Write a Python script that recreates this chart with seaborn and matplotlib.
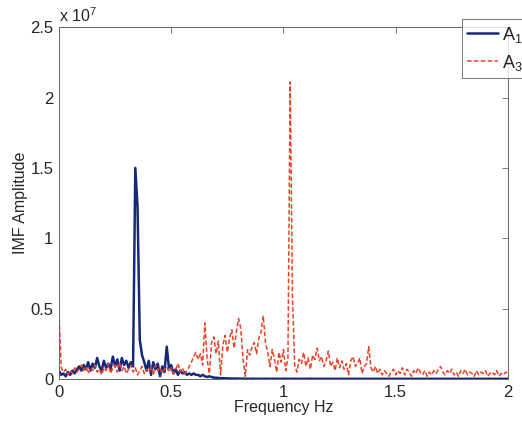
import numpy as np
import pandas as pd
import matplotlib
matplotlib.use("Agg")
import matplotlib.pyplot as plt
import seaborn as sns
from matplotlib.ticker import FuncFormatter

# frequency bins, 0.01 Hz apart
freq = np.round(np.arange(201) * 0.01, 2)

# amplitudes in units of 1e5
a1 = [
    6, 3, 4, 2, 5, 3, 6, 4, 7, 9,
    6, 10, 7, 12, 6, 11, 8, 15, 9, 6,
    13, 8, 11, 7, 16, 9, 14, 6, 15, 10,
    13, 8, 12, 9, 150, 122, 28, 17, 12, 6,
    13, 3, 12, 7, 11, 2, 9, 5, 23, 8,
    10, 4, 7, 3, 6, 4, 5, 3, 4, 3,
    4, 3, 3, 2, 3, 2, 1.5, 2, 1.5, 1,
    1, 0.8, 0.7, 0.6, 0.6, 0.5, 0.5, 0.4, 0.4, 0.4,
    0.3, 0.3, 0.3, 0.2, 0.3, 0.2, 0.3, 0.2, 0.2, 0.3,
    0.2, 0.2, 0.3, 0.2, 0.2, 0.2, 0.3, 0.2, 0.2, 0.2,
    0.3, 0.2, 0.2, 0.2, 0.2, 0.3, 0.2, 0.2, 0.2, 0.2,
    0.2, 0.2, 0.3, 0.2, 0.2, 0.2, 0.2, 0.2, 0.2, 0.2,
    0.2, 0.2, 0.2, 0.2, 0.2, 0.2, 0.2, 0.2, 0.2, 0.2,
    0.2, 0.2, 0.2, 0.2, 0.2, 0.2, 0.2, 0.2, 0.2, 0.2,
    0.2, 0.2, 0.2, 0.2, 0.2, 0.2, 0.2, 0.2, 0.2, 0.2,
    0.2, 0.2, 0.2, 0.2, 0.2, 0.2, 0.2, 0.2, 0.2, 0.2,
    0.2, 0.2, 0.2, 0.2, 0.2, 0.2, 0.2, 0.2, 0.2, 0.2,
    0.2, 0.2, 0.2, 0.2, 0.2, 0.2, 0.2, 0.2, 0.2, 0.2,
    0.2, 0.2, 0.2, 0.2, 0.2, 0.2, 0.2, 0.2, 0.2, 0.2,
    0.2, 0.2, 0.2, 0.2, 0.2, 0.2, 0.2, 0.2, 0.2, 0.2,
    0.2,
]
a3 = [
    48, 8, 5, 7, 3, 6, 4, 8, 5, 7,
    10, 6, 9, 4, 8, 6, 10, 5, 7, 3,
    8, 6, 11, 4, 8, 10, 5, 12, 6, 9,
    4, 7, 10, 5, 8, 3, 6, 9, 4, 7,
    5, 9, 3, 10, 6, 8, 4, 7, 9, 5,
    8, 4, 7, 11, 5, 8, 3, 6, 9, 12,
    16, 19, 14, 18, 10, 40, 14, 4, 26, 30,
    18, 27, 3, 24, 31, 19, 29, 35, 22, 33,
    43, 36, 14, 2, 21, 17, 23, 26, 18, 29,
    33, 45, 26, 19, 9, 21, 14, 5, 19, 12,
    21, 6, 15, 211, 60, 10, 5, 14, 11, 19,
    9, 15, 7, 17, 14, 22, 13, 16, 9, 13,
    20, 9, 12, 6, 15, 8, 13, 7, 11, 3,
    13, 16, 9, 11, 15, 4, 9, 11, 23, 8,
    5, 9, 4, 7, 3, 6, 4, 2, 5, 7,
    3, 6, 4, 8, 3, 7, 5, 2, 6, 4,
    8, 5, 3, 6, 2, 5, 3, 6, 4, 7,
    9, 5, 3, 6, 4, 7, 3, 5, 2, 6,
    4, 7, 3, 5, 4, 2, 6, 3, 5, 4,
    6, 2, 4, 5, 3, 6, 2, 4, 3, 5,
    4,
]

df = pd.DataFrame({
    "freq": freq,
    "A1": np.array(a1) * 1e5,
    "A3": np.array(a3) * 1e5,
})

sns.set_style("white")
plt.rcParams["font.family"] = ["Liberation Sans", "DejaVu Sans"]

fig = plt.figure(figsize=(5.22, 4.25), dpi=100)
ax = fig.add_axes([0.113, 0.108, 0.86, 0.828])

sns.lineplot(data=df, x="freq", y="A1", ax=ax, color="#15297a", lw=1.8,
             label="$\\mathregular{A_1}$")
sns.lineplot(data=df, x="freq", y="A3", ax=ax, color="#e8432a", lw=1.1,
             label="$\\mathregular{A_3}$")
ax.lines[1].set_dashes([3, 1.5])

ax.set_xlim(0, 2)
ax.set_ylim(0, 2.5e7)
ax.set_xticks([0, 0.5, 1, 1.5, 2])
ax.set_yticks([0, 0.5e7, 1e7, 1.5e7, 2e7, 2.5e7])
ax.xaxis.set_major_formatter(FuncFormatter(lambda v, p: f"{v:g}"))
ax.yaxis.set_major_formatter(FuncFormatter(lambda v, p: f"{v / 1e7:g}"))
ax.tick_params(direction="in", length=4, width=0.6, labelsize=12,
               top=True, right=True, color="#666666", pad=4)
for s in ax.spines.values():
    s.set_color("#666666")
    s.set_linewidth(0.7)

ax.set_xlabel("Frequency Hz", fontsize=11.5, labelpad=0)
ax.set_ylabel("IMF Amplitude", fontsize=11.5, labelpad=2)
ax.text(0.0, 1.005, "x 10$^{\\mathregular{7}}$", transform=ax.transAxes,
        fontsize=11.5, ha="left", va="bottom")

leg = ax.legend(loc="upper left", bbox_to_anchor=(0.8976, 1.023), fontsize=13,
                frameon=True, fancybox=False, borderpad=0.3, handlelength=1.7,
                handletextpad=0.2, labelspacing=0.45, borderaxespad=0)
leg.get_frame().set_edgecolor("#555555")
leg.get_frame().set_linewidth(0.7)

fig.savefig("out.png", dpi=100)
